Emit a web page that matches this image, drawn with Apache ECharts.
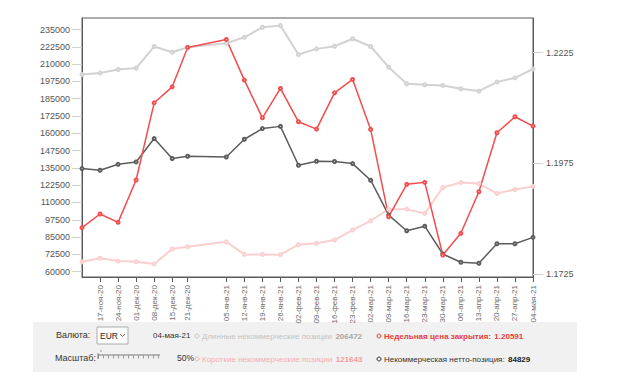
<!DOCTYPE html>
<html><head><meta charset="utf-8">
<script src="https://cdn.jsdelivr.net/npm/echarts@6/dist/echarts.min.js"></script>
<style>html,body{margin:0;padding:0;background:#fff}#c{width:620px;height:380px}</style>
</head><body><div id="c"></div>
<script>
const dates = ['2020-11-10','2020-11-17','2020-11-24','2020-12-01','2020-12-08','2020-12-15','2020-12-21','2021-01-05','2021-01-12','2021-01-19','2021-01-26','2021-02-02','2021-02-09','2021-02-16','2021-02-23','2021-03-02','2021-03-09','2021-03-16','2021-03-23','2021-03-30','2021-04-06','2021-04-13','2021-04-20','2021-04-27','2021-05-04'];
const xLabels = ['10-ноя-20','17-ноя-20','24-ноя-20','01-дек-20','08-дек-20','15-дек-20','21-дек-20','05-янв-21','12-янв-21','19-янв-21','26-янв-21','02-фев-21','09-фев-21','16-фев-21','23-фев-21','02-мар-21','09-мар-21','16-мар-21','23-мар-21','30-мар-21','06-апр-21','13-апр-21','20-апр-21','27-апр-21','04-мая-21'];
const longPos = [202500,203500,206100,207100,222700,218600,222200,225100,229400,236600,237800,216900,221000,222900,228300,222700,207800,195800,195100,194600,192200,190500,197000,200100,206472];
const shortPos = [67200,69700,67700,67200,65600,76400,78000,81600,72500,72500,72300,79500,80500,82900,90100,96800,105200,105200,102100,120800,124400,123700,116500,119400,121643];
const netPos = [134500,133300,137600,139300,156200,141800,143400,142900,155700,163400,165000,136900,139800,139600,138100,126100,100900,89600,92900,72800,66800,66100,80200,80200,84829];
const price = [1.18296,1.18605,1.18417,1.19373,1.21118,1.21479,1.22369,1.22550,1.21631,1.20779,1.21443,1.20689,1.20524,1.21344,1.21646,1.20517,1.18544,1.19275,1.19321,1.17679,1.18169,1.19108,1.20441,1.20802,1.20591];
const leftTicks = [60000,72500,85000,97500,110000,122500,135000,147500,160000,172500,185000,197500,210000,222500,235000];
const rightTicks = [1.1725,1.1975,1.2225];

function dayNum(s){const p=s.split('-').map(Number);return Date.UTC(p[0],p[1]-1,p[2])/86400000;}
const d0 = dayNum(dates[0]);
const days = dates.map(s=>dayNum(s)-d0);
const pair = arr => arr.map((v,i)=>[days[i],v]);
const FONT = '"Liberation Sans", Arial, sans-serif';

const chart = echarts.init(document.getElementById('c'), null, {renderer:'svg'});
const sym = {symbol:'emptyCircle', symbolSize:3, showSymbol:true};
function legendText(x, y, label, value, c1, c2, bold1) {
  return {type:'text', style:{x:x, y:y, verticalAlign:'middle', fontFamily:FONT,
    text:'{a|'+label+'} {b|'+value+'}',
    rich:{a:{fontSize:8,fill:c1,fontWeight:bold1?'bold':'normal',fontFamily:FONT},b:{fontSize:8,fill:c2,fontWeight:'bold',fontFamily:FONT}}}};
}
chart.setOption({
  animation:false,
  backgroundColor:'#fff',
  textStyle:{fontFamily:FONT},
  grid:{left:82,right:87,top:18,bottom:103,show:true,borderColor:'#5a5a5a',borderWidth:1,backgroundColor:'transparent'},
  xAxis:{type:'value',min:days[0],max:days[days.length-1],
    axisLine:{show:true,lineStyle:{color:'#5a5a5a'}},
    axisTick:{show:true,length:5,lineStyle:{color:'#5a5a5a'},customValues:days.slice(1)},
    axisLabel:{rotate:90,fontSize:8,color:'#6a6a6a',margin:8,fontFamily:FONT,customValues:days.slice(1),
      formatter:function(v){const i=days.indexOf(Math.round(v));return i>=0?xLabels[i]:'';}},
    splitLine:{show:false}},
  yAxis:[
    {type:'value',position:'left',min:56170,max:243310,
      axisLine:{show:true,lineStyle:{color:'#5a5a5a'}},
      axisTick:{show:true,length:10,lineStyle:{color:'#cfcfcf'},customValues:leftTicks},
      axisLabel:{fontSize:9,color:'#555',margin:12,fontFamily:FONT,customValues:leftTicks,formatter:v=>String(Math.round(v))},
      splitLine:{show:false}},
    {type:'value',position:'right',min:1.17182,max:1.23034,
      axisLine:{show:true,lineStyle:{color:'#5a5a5a'}},
      axisTick:{show:true,length:10,lineStyle:{color:'#cfcfcf'},customValues:rightTicks},
      axisLabel:{fontSize:9,color:'#555',margin:13,fontFamily:FONT,customValues:rightTicks,formatter:v=>v.toFixed(4)},
      splitLine:{show:false}}
  ],
  series:[
    Object.assign({type:'line',name:'long',yAxisIndex:0,data:pair(longPos),lineStyle:{color:'#d2d2d2',width:2},itemStyle:{color:'#d2d2d2'}},sym),
    Object.assign({type:'line',name:'short',yAxisIndex:0,data:pair(shortPos),lineStyle:{color:'#fbcfcf',width:2},itemStyle:{color:'#fbcfcf'}},sym),
    Object.assign({type:'line',name:'net',yAxisIndex:0,data:pair(netPos),lineStyle:{color:'#5c5c5c',width:1.5},itemStyle:{color:'#5c5c5c'}},sym),
    Object.assign({type:'line',name:'price',yAxisIndex:1,data:pair(price),lineStyle:{color:'#f24c4c',width:1.5},itemStyle:{color:'#f24c4c'}},sym)
  ],
  graphic:[
    {type:'rect',silent:true,shape:{x:33,y:322,width:544,height:50},style:{fill:'#f1f1f1'}},
    {type:'text',style:{x:56,y:335,text:'Валюта:',fill:'#333',font:'9px '+FONT,verticalAlign:'middle'}},
    {type:'rect',shape:{x:97,y:327,width:31,height:17},style:{fill:'#fff',stroke:'#aaa',lineWidth:1}},
    {type:'text',style:{x:100,y:336,text:'EUR',fill:'#222',font:'8.5px '+FONT,verticalAlign:'middle'}},
    {type:'polyline',shape:{points:[[120,334],[122.5,336.5],[125,334]]},style:{stroke:'#666',lineWidth:1,fill:null}},
    {type:'text',style:{x:153,y:335,text:'04-мая-21',fill:'#333',font:'8px '+FONT,verticalAlign:'middle'}},
    {type:'circle',shape:{cx:197,cy:336,r:2},style:{fill:'none',stroke:'#c8c8c8',lineWidth:1}},
    legendText(202,336,'Длинные некоммерческие позиции','206472','#c4c4c4','#a8a8a8',false),
    {type:'circle',shape:{cx:379,cy:336,r:2},style:{fill:'none',stroke:'#e83c3c',lineWidth:1}},
    legendText(384,336,'Недельная цена закрытия:','1.20591','#e83c3c','#e83c3c',true),
    {type:'text',style:{x:55,y:358,text:'Масштаб:',fill:'#333',font:'9px '+FONT,verticalAlign:'middle'}},
    {type:'line',shape:{x1:98,y1:355,x2:160,y2:355},style:{stroke:'#777',lineWidth:1}},
    {type:'line',shape:{x1:98,y1:357,x2:160,y2:357},style:{stroke:'#999',lineWidth:3,lineDash:[1,4]}},
    {type:'line',shape:{x1:98,y1:353,x2:98,y2:359},style:{stroke:'#777',lineWidth:1}},
    {type:'line',shape:{x1:101,y1:350,x2:101,y2:352},style:{stroke:'#999',lineWidth:1}},
    {type:'text',style:{x:177,y:358,text:'50%',fill:'#333',font:'8.5px '+FONT,verticalAlign:'middle'}},
    {type:'circle',shape:{cx:197,cy:359,r:2},style:{fill:'none',stroke:'#f8b4b4',lineWidth:1}},
    legendText(202,359,'Короткие некоммерческие позиции','121643','#f7aeae','#f29a9a',false),
    {type:'circle',shape:{cx:379,cy:359,r:2},style:{fill:'none',stroke:'#333',lineWidth:1}},
    legendText(384,359,'Некоммерческая нетто-позиция:','84829','#333','#222',false)
  ]
});
</script></body></html>
